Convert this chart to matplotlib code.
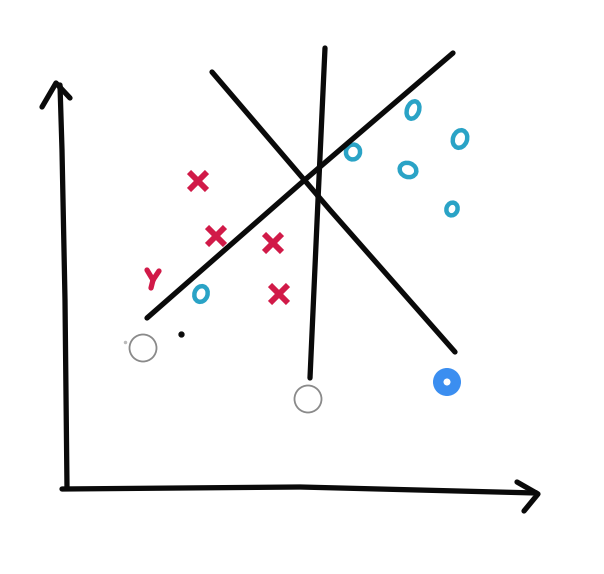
import numpy as np
import matplotlib.pyplot as plt
from matplotlib.patches import Ellipse, Circle

# sketch coordinates (image pixels, y grows downward)
y_axis_x = [67, 65, 62, 60]
y_axis_y = [488, 300, 150, 85]
y_head_x = [42, 56, 70]
y_head_y = [107, 83, 98]

x_axis_x = [62, 300, 536]
x_axis_y = [489, 487, 493]
x_head_x = [517, 538, 524]
x_head_y = [482, 494, 511]

rise_x = [147, 300, 453]
rise_y = [318, 184, 53]
fall_x = [212, 330, 455]
fall_y = [72, 210, 352]
vert_x = [325, 318, 310]
vert_y = [48, 200, 378]

cross_x = [198, 216, 273, 279]
cross_y = [181, 236, 243, 294]
circ_x = [201, 353, 413, 460, 408, 452]
circ_y = [294, 152, 110, 139, 170, 209]
circ_w = [13, 14, 12, 14, 17, 11]
circ_h = [16, 15, 18, 18, 14, 13]

open_x = [143, 308]
open_y = [348, 399]
sel_x, sel_y = 447, 382

black = '#0a0a0a'
red = '#d11a48'
cyan = '#2aa3c6'

fig = plt.figure(figsize=(6.04, 5.74), dpi=100)
ax = fig.add_axes([0, 0, 1, 1])
ax.set_xlim(0, 604)
ax.set_ylim(574, 0)
ax.axis('off')

lw = 3.8
for xs, ys in [(y_axis_x, y_axis_y), (y_head_x, y_head_y), (x_axis_x, x_axis_y),
               (x_head_x, x_head_y), (rise_x, rise_y), (fall_x, fall_y), (vert_x, vert_y)]:
    ax.plot(xs, ys, color=black, lw=lw, solid_capstyle='round', solid_joinstyle='round')

ax.plot(cross_x, cross_y, ls='none', marker='x', ms=13, mew=4.2, color=red)
# the "y"
ax.plot([147, 153, 159], [270, 280, 271], color=red, lw=3.8, solid_capstyle='round')
ax.plot([153, 151], [280, 288], color=red, lw=3.8, solid_capstyle='round')

for cx, cy, w, h in zip(circ_x, circ_y, circ_w, circ_h):
    ax.add_patch(Ellipse((cx, cy), w, h, angle=20, fill=False, ec=cyan, lw=3.2))

ax.plot([181], [334], 'o', color=black, ms=3.5)
ax.plot([125], [342], 'o', color='#bbbbbb', ms=1.5)

for ox, oy in zip(open_x, open_y):
    ax.add_patch(Circle((ox, oy), 13.5, fc='white', ec='#8a8a8a', lw=1.3))
ax.add_patch(Circle((sel_x, sel_y), 14, fc='#3b8ef0', ec='none'))
ax.add_patch(Circle((sel_x, sel_y), 3.5, fc='white', ec='none'))

fig.savefig('out.png', dpi=100)
